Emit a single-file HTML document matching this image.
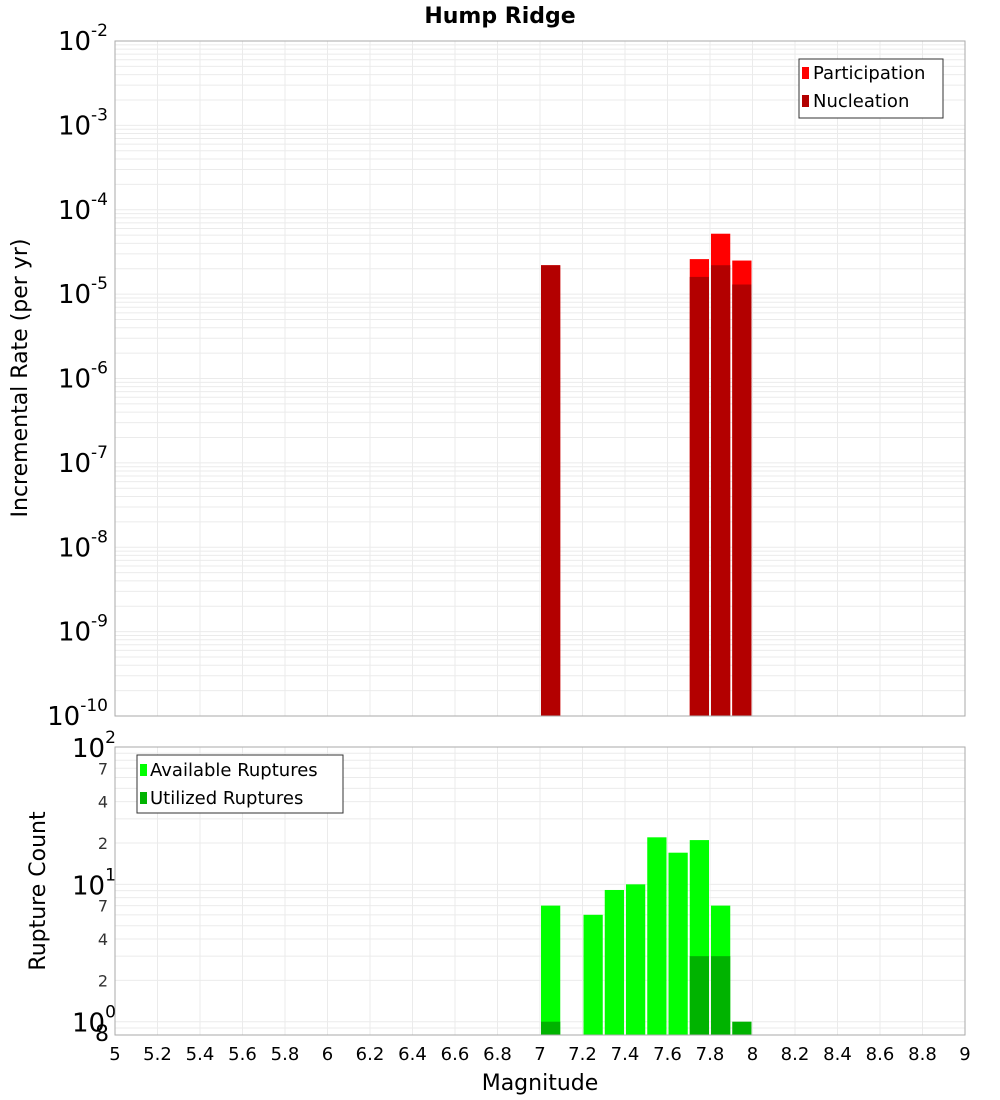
<!DOCTYPE html>
<html><head><meta charset="utf-8"><style>
body{margin:0;background:#fff}
svg{display:block;font-family:"DejaVu Sans","Liberation Sans",sans-serif}
</style></head><body>
<svg id="c" width="1000" height="1100" viewBox="0 0 1000 1100">
<text x="500" y="23" text-anchor="middle" font-size="22" font-weight="bold">Hump Ridge</text>
</svg>
<script>
const bins = [7.05, 7.75, 7.85, 7.95];
const participation = [2.2e-5, 2.6e-5, 5.2e-5, 2.5e-5];
const nucleation = [2.2e-5, 1.6e-5, 2.2e-5, 1.3e-5];
const countBins = [7.05, 7.25, 7.35, 7.45, 7.55, 7.65, 7.75, 7.85, 7.95];
const available = [7, 6, 9.1, 10, 22, 17, 21, 7, 0];
const utilized = [1, 0, 0, 0, 0, 0, 3, 3, 1];
const xTicks = [5,5.2,5.4,5.6,5.8,6,6.2,6.4,6.6,6.8,7,7.2,7.4,7.6,7.8,8,8.2,8.4,8.6,8.8,9];
const topExps = [-2,-3,-4,-5,-6,-7,-8,-9,-10];

const NS="http://www.w3.org/2000/svg";
const svg=document.getElementById('c');
function mk(t,a,p){const e=document.createElementNS(NS,t);for(const k in a)e.setAttribute(k,a[k]);(p||svg).appendChild(e);return e;}
const L=115,R=965,T1=41,B1=716,T2=747,B2=1035;
const X=v=>L+(v-5)/4*(R-L);
const Y1=v=>T1+(-2-Math.log10(v))/8*(B1-T1);
const lo2=Math.log10(0.8),hi2=2;
const Y2=v=>T2+(hi2-Math.log10(v))/(hi2-lo2)*(B2-T2);
const bw=0.1;

// grids
const g=mk('g',{});


for(const t of xTicks){
  mk('line',{x1:X(t),x2:X(t),y1:T1,y2:B1,stroke:'#ebebeb'},g);
  mk('line',{x1:X(t),x2:X(t),y1:T2,y2:B2,stroke:'#ebebeb'},g);
}
for(let e=-10;e<-2;e++)for(let m=1;m<10;m++){const y=Y1(m*Math.pow(10,e));mk('line',{x1:L,x2:R,y1:y,y2:y,stroke:'#ebebeb'},g);}
for(let e=-1;e<2;e++)for(let m=1;m<10;m++){const v=m*Math.pow(10,e);if(v<0.8)continue;const y=Y2(v);mk('line',{x1:L,x2:R,y1:y,y2:y,stroke:'#ebebeb'},g);}

// top bars
bins.forEach((b,i)=>{
  const x0=X(b-bw/2)+1,w=X(b+bw/2)-X(b-bw/2)-2;
  const p=mk('rect',{x:x0,y:Y1(participation[i]),width:w,height:B1-Y1(participation[i]),fill:'#ff0000'});
  
  
  const n=mk('rect',{x:x0,y:Y1(nucleation[i]),width:w,height:B1-Y1(nucleation[i]),fill:'#b30000'});
  
  
});
// bottom bars
countBins.forEach((b,i)=>{
  const x0=X(b-bw/2)+1,w=X(b+bw/2)-X(b-bw/2)-2;
  if(available[i]>0){const r=mk('rect',{x:x0,y:Y2(available[i]),width:w,height:B2-Y2(available[i]),fill:'#00ff00'});
  
  }
  if(utilized[i]>0){const r=mk('rect',{x:x0,y:Y2(utilized[i]),width:w,height:B2-Y2(utilized[i]),fill:'#00b300'});
  
  }
});
mk('rect',{x:L,y:T1,width:R-L,height:B1-T1,fill:'none',stroke:'#aaa'});
mk('rect',{x:L,y:T2,width:R-L,height:B2-T2,fill:'none',stroke:'#aaa'});

// top y labels
topExps.forEach(e=>{
  const y=Y1(Math.pow(10,e));
  const t=mk('text',{x:108,y:y+9,'text-anchor':'end','font-size':'26'});
  
  
  t.innerHTML='10<tspan dy="-14" font-size="17">'+e+'</tspan>';
});
// bottom y labels
[[1,'0'],[10,'1'],[100,'2']].forEach(([v,s])=>{
  const y=Y2(v);
  const t=mk('text',{x:72,y:y+10,'font-size':'26'});
  
  
  t.innerHTML='10<tspan dy="-14" font-size="17">'+s+'</tspan>';
});
[2,4,7,20,40,70].forEach(v=>{
  const t=mk('text',{x:108,y:Y2(v)+6,'text-anchor':'end','font-size':'16',fill:'#333'});
  
  
  t.textContent=String(v).charAt(0);
});
{const t=mk('text',{x:95,y:1041,'font-size':'22'});t.textContent='8';}
// x labels
xTicks.forEach(v=>{
  const t=mk('text',{x:X(v),y:1060,'text-anchor':'middle','font-size':'18'});
  
  
  t.textContent=String(v);
});
</script>
<svg width="0" height="0" style="position:absolute"></svg>
<div style="position:absolute;left:0;top:0;width:1000px;height:1100px;pointer-events:none">
<svg width="1000" height="1100" style="font-family:'DejaVu Sans','Liberation Sans',sans-serif">
<text x="540" y="1090" text-anchor="middle" font-size="22">Magnitude</text>
<text transform="translate(27,378) rotate(-90)" text-anchor="middle" font-size="22">Incremental Rate (per yr)</text>
<text transform="translate(45,891) rotate(-90)" text-anchor="middle" font-size="22">Rupture Count</text>
<g>
<rect x="799" y="59" width="144" height="59" fill="#fff" stroke="#333"/>
<rect x="802" y="67" width="7" height="12" fill="#ff0000"/>
<text x="813" y="79" font-size="18">Participation</text>
<rect x="802" y="95" width="7" height="12" fill="#b30000"/>
<text x="813" y="107" font-size="18">Nucleation</text>
</g>
<g>
<rect x="137" y="755" width="206" height="58" fill="#fff" stroke="#333"/>
<rect x="140" y="764" width="7" height="12" fill="#00ff00"/>
<text x="150" y="776" font-size="18">Available Ruptures</text>
<rect x="140" y="792" width="7" height="12" fill="#00b300"/>
<text x="150" y="804" font-size="18">Utilized Ruptures</text>
</g>
</svg></div>
</body></html>
